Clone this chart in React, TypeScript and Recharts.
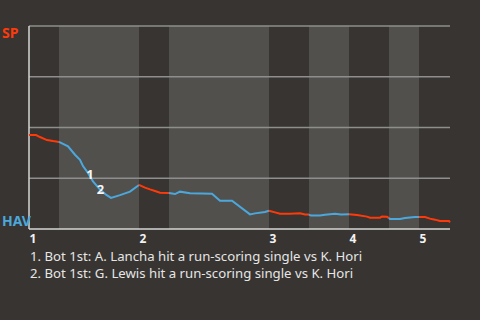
import React from 'react';
import { LineChart, Line, XAxis, YAxis, ReferenceArea, ReferenceDot, ReferenceLine } from 'recharts';

// plate-appearance position (x) and SP win probability in % (y)
const paPos = [0, 0.7, 1.1, 1.8, 2.4, 3.0, 3.9, 4.6, 5.1, 5.4, 5.9, 6.4, 7.1, 7.7, 8.2, 9.1, 10.1, 11.0, 11.6, 12.1, 12.6, 13.1, 14.0, 14.6, 15.1, 16.1, 18.3, 19.1, 20.3, 22.1, 22.6, 23.6, 24.0, 24.6, 25.1, 26.1, 27.1, 27.6, 28.0, 28.2, 29.1, 29.6, 30.6, 31.2, 32.0, 32.8, 33.8, 34.1, 35.1, 35.3, 35.8, 36.0, 36.1, 37.1, 37.6, 38.6, 39.0, 39.6, 40.1, 40.6, 41.1, 42.0, 42.1];
const spWinProb = [46.3, 46.3, 45.3, 43.8, 43.3, 42.9, 40.7, 36.6, 34.1, 31.0, 27.6, 23.5, 19.4, 16.9, 15.3, 16.7, 18.4, 21.7, 20.4, 19.5, 18.7, 17.9, 17.7, 17.2, 18.4, 17.6, 17.4, 13.9, 13.9, 7.2, 7.7, 8.4, 9.0, 8.2, 7.5, 7.5, 7.7, 7.2, 7.1, 6.6, 6.6, 7.0, 7.5, 7.2, 7.3, 6.9, 6.1, 5.6, 5.6, 6.1, 6.0, 5.4, 4.9, 4.9, 5.4, 5.9, 5.9, 5.9, 5.1, 4.6, 3.9, 3.9, 3.3];
// half-inning boundaries (in plate-appearance position)
const halfBreaks = [0, 3, 11, 14, 24, 28, 32, 36, 39, 42.1];
const halfBatting = ['SP', 'HAV', 'SP', 'HAV', 'SP', 'HAV', 'SP', 'HAV', 'SP'];
const inningStarts = [0, 11, 24, 32, 39];
const inningLabels = ['1', '2', '3', '4', '5'];
const gridValues = [25, 50, 75, 100];
const eventPos = [6.1, 7.15];
const eventWp = [27.1, 19.7];
const eventLabels = ['1', '2'];
const footnotes = [
  '1. Bot 1st: A. Lancha hit a run-scoring single vs K. Hori',
  '2. Bot 1st: G. Lewis hit a run-scoring single vs K. Hori',
];

const BG = '#373431';
const BAND = '#51504d';
const RED = '#ff3a0a';
const BLUE = '#4ca8dc';
const FONT = '"Noto Sans", sans-serif';

const rows = paPos.map((x, i) => {
  const r: Record<string, number> = { x };
  for (let h = 0; h < halfBatting.length; h++) {
    if (x >= halfBreaks[h] - 1e-9 && x <= halfBreaks[h + 1] + 1e-9) r['h' + h] = spWinProb[i];
  }
  return r;
});

const Tick = (props: any) => {
  const idx = inningStarts.indexOf(props.payload.value);
  return (
    <text x={props.x + 4} y={props.y + 12} textAnchor="middle" fill="#f2f2f2" fontWeight={700} fontSize={12} fontFamily={FONT}>
      {inningLabels[idx]}
    </text>
  );
};

export default function App() {
  return (
    <div style={{ position: 'absolute', left: 0, top: 0, width: 480, height: 320, background: BG }}>
      <LineChart width={480} height={320} data={rows} margin={{ top: 26, left: 29, right: 30, bottom: 71 }}>
        {halfBatting.map((t, h) =>
          t === 'HAV' ? (
            <ReferenceArea key={'b' + h} x1={halfBreaks[h]} x2={halfBreaks[h + 1]} y1={0} y2={100} fill={BAND} fillOpacity={1} stroke="none" />
          ) : null
        )}
        {gridValues.map((v) => (
          <ReferenceLine key={'g' + v} y={v} stroke="#8e8e8e" strokeWidth={1.3} />
        ))}
        <ReferenceLine x={0} stroke="#d6d6d6" strokeWidth={1.5} />
        <XAxis dataKey="x" type="number" domain={[0, 42.1]} ticks={inningStarts} height={20} tickSize={0} tickLine={false} axisLine={{ stroke: '#d6d6d6', strokeWidth: 1.5 }} tick={<Tick />} interval={0} />
        <YAxis type="number" domain={[0, 100]} hide />
        {halfBatting.map((t, h) => (
          <Line key={'l' + h} dataKey={'h' + h} type="linear" stroke={t === 'SP' ? RED : BLUE} strokeWidth={2} dot={false} activeDot={false} isAnimationActive={false} connectNulls={false} />
        ))}
        {eventPos.map((x, i) => (
          <ReferenceDot key={'e' + i} x={x} y={eventWp[i]} r={1} fill="none" stroke="none"
            label={{ value: eventLabels[i], position: 'center', fill: '#f5f5f5', fontWeight: 700, fontSize: 13, fontFamily: FONT }} />
        ))}
      </LineChart>
      <svg width={480} height={320} style={{ position: 'absolute', left: 0, top: 0, pointerEvents: 'none' }}>
        <text x={2} y={38} fill={RED} fontWeight={700} fontSize={14} fontFamily={FONT}>SP</text>
        <text x={2} y={226} fill={BLUE} fontWeight={700} fontSize={14} fontFamily={FONT}>HAV</text>
        {footnotes.map((f, i) => (
          <text key={i} x={30} y={261 + i * 17} fill="#e6e6e6" fontSize={13.2} fontFamily={FONT}>{f}</text>
        ))}
      </svg>
    </div>
  );
}
